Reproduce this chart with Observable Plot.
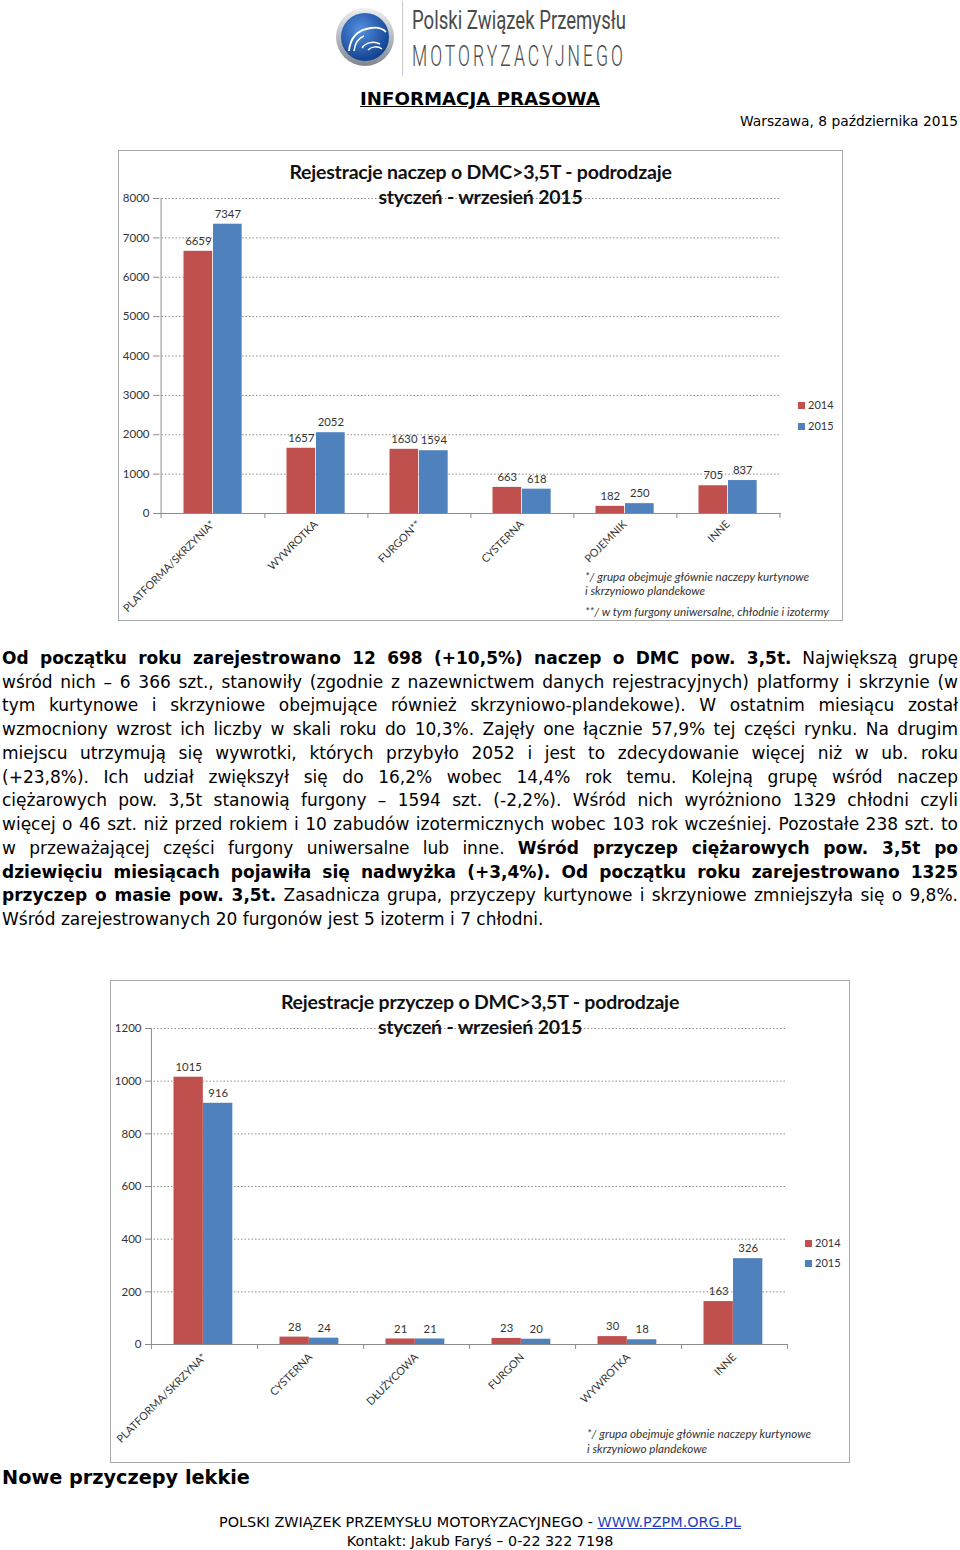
<!DOCTYPE html>
<html><head><meta charset="utf-8">
<script src="https://cdn.jsdelivr.net/npm/d3@7"></script>
<script src="https://cdn.jsdelivr.net/npm/@observablehq/plot@0.6"></script>
<style>
body{margin:0;background:#fff;}
#page{position:relative;width:960px;height:1550px;overflow:hidden;font-family:"DejaVu Sans",Verdana,sans-serif;color:#000;}
.abs{position:absolute;}
.box{position:absolute;background:#fff;}
.boxborder{position:absolute;left:0;top:0;right:0;bottom:0;border:1.5px solid #a8a8a8;pointer-events:none;}
.box svg{position:absolute;left:0;top:0;}
.ctitle{position:absolute;left:0;right:0;text-align:center;font-family:Lato,sans-serif;font-weight:bold;font-size:19.5px;color:#111;line-height:20px;height:20px;letter-spacing:-0.2px;}
.leg{position:absolute;font-family:Lato,sans-serif;font-size:11px;color:#333;line-height:12px;white-space:nowrap;}
.leg i{display:inline-block;width:7px;height:7px;margin-right:3px;vertical-align:0px;}
.note{position:absolute;font-family:Lato,sans-serif;font-style:italic;font-size:11.7px;color:#333;white-space:nowrap;line-height:12px;}
.line{position:absolute;left:2px;white-space:nowrap;font-size:17px;line-height:24px;height:24px;}
</style>
</head><body>
<div id="page">
<svg class="abs" style="left:0;top:0" width="960" height="80">
 <defs>
  <radialGradient id="g1" cx="40%" cy="35%" r="70%"><stop offset="0" stop-color="#5590e0"/><stop offset="1" stop-color="#0d3c8c"/></radialGradient>
  <linearGradient id="g2" x1="0" y1="0" x2="0" y2="1"><stop offset="0" stop-color="#eef0f3"/><stop offset="1" stop-color="#7f868f"/></linearGradient>
 </defs>
 <circle cx="365" cy="37" r="29" fill="url(#g2)"/>
 <circle cx="365" cy="37" r="24" fill="url(#g1)"/>
 <path d="M349 51 C350 40 356 30 371 28 C378 27 383 29 386 32" stroke="#fff" fill="none" stroke-width="1.8"/>
 <path d="M354 51 C355 44 358 38 364 36" stroke="#fff" fill="none" stroke-width="1.5"/>
 <path d="M362 48 C366 42 374 41 380 44 M368 50 C372 46 378 46 382 49" stroke="#fff" fill="none" stroke-width="1.5"/>
 <line x1="402.5" y1="1" x2="402.5" y2="76" stroke="#c8c8c8"/>
 <text x="412" y="29" font-family="Roboto" font-size="25" fill="#4a4a4a" textLength="214" lengthAdjust="spacingAndGlyphs">Polski Związek Przemysłu</text>
 <text x="412" y="66" font-family="Roboto" font-weight="300" font-size="29" letter-spacing="5" fill="#4a4a4a" textLength="214" lengthAdjust="spacingAndGlyphs">MOTORYZACYJNEGO</text>
</svg>
<div class="abs" style="left:0;width:960px;top:88px;text-align:center;font-weight:bold;font-size:18.2px;line-height:22px;text-decoration:underline;">INFORMACJA PRASOWA</div>
<div class="abs" style="right:2px;top:112px;font-size:13.8px;line-height:18px;">Warszawa, 8 października 2015</div>

<div class="box" id="box1" style="left:118px;top:150px;width:725px;height:471px;">
  <div class="ctitle" style="top:12px">Rejestracje naczep o DMC&gt;3,5T - podrodzaje</div>
  <div class="ctitle" style="top:37px">styczeń - wrzesień 2015</div>
  <div class="leg" id="leg1a" style="left:680px;top:249px"></div>
  <div class="leg" id="leg1b" style="left:680px;top:270px"></div>
  <div class="note" style="left:467px;top:420px">*/ grupa obejmuje głównie naczepy kurtynowe</div>
  <div class="note" style="left:467px;top:434px">i skrzyniowo plandekowe</div>
  <div class="note" style="left:467px;top:455px">**/ w tym furgony uniwersalne, chłodnie i izotermy</div>
  <div class="boxborder"></div>
</div>

<div class="box" id="box2" style="left:110px;top:980px;width:740px;height:483px;">
  <div class="ctitle" style="top:12px">Rejestracje przyczep o DMC&gt;3,5T - podrodzaje</div>
  <div class="ctitle" style="top:37px">styczeń - wrzesień 2015</div>
  <div class="leg" id="leg2a" style="left:695px;top:257px"></div>
  <div class="leg" id="leg2b" style="left:695px;top:277px"></div>
  <div class="note" style="left:477px;top:447px">*/ grupa obejmuje głównie naczepy kurtynowe</div>
  <div class="note" style="left:477px;top:462px">i skrzyniowo plandekowe</div>
  <div class="boxborder"></div>
</div>

<div class="abs" style="left:2px;top:1466px;font-weight:bold;font-size:19.3px;line-height:24px;">Nowe przyczepy lekkie</div>
<div class="abs" style="left:0;width:960px;top:1513px;text-align:center;font-size:14.4px;line-height:18px;">POLSKI ZWIĄZEK PRZEMYSŁU MOTORYZACYJNEGO - <span style="color:#1f3fbf;text-decoration:underline">WWW.PZPM.ORG.PL</span></div>
<div class="abs" style="left:0;width:960px;top:1532px;text-align:center;font-size:14.3px;line-height:18px;">Kontakt: Jakub Faryś – 0-22 322 7198</div>
</div>

<script>
// ---- data ----
const years = ["2014", "2015"];
const categoriesNaczepy = ["PLATFORMA/SKRZYNIA*", "WYWROTKA", "FURGON**", "CYSTERNA", "POJEMNIK", "INNE"];
const naczepy2014 = [6659, 1657, 1630, 663, 182, 705];
const naczepy2015 = [7347, 2052, 1594, 618, 250, 837];
const ticksNaczepy = [0, 1000, 2000, 3000, 4000, 5000, 6000, 7000, 8000];

const categoriesPrzyczepy = ["PLATFORMA/SKRZYNA*", "CYSTERNA", "DŁUŻYCOWA", "FURGON", "WYWROTKA", "INNE"];
const przyczepy2014 = [1015, 28, 21, 23, 30, 163];
const przyczepy2015 = [916, 24, 21, 20, 18, 326];
const ticksPrzyczepy = [0, 200, 400, 600, 800, 1000, 1200];

const RED = "#C0504D", BLUE = "#4F81BD", GRID = "#8c8c8c";

function groupedBars({cats, a, b, ticks, width, height, ml, mr, mt, mb, labelPad}) {
  const bw = (width - ml - mr) / cats.length;
  const plotH = height - mt - mb;
  const rows = cats.map((c, i) => ({c, a: a[i], b: b[i]}));
  const barW = 29.5, gap = 22.5;
  return Plot.plot({
    width, height, marginLeft: ml, marginRight: mr, marginTop: mt, marginBottom: mb,
    style: {fontFamily: "Lato, sans-serif", fontSize: "11.3px", color: "#333", background: "transparent", overflow: "visible"},
    x: {type: "band", domain: cats, paddingInner: 0, paddingOuter: 0, label: null},
    y: {domain: [0, ticks[ticks.length - 1]], label: null},
    marks: [
      Plot.gridY(ticks.slice(1), {stroke: GRID, strokeOpacity: 1, strokeDasharray: "1.5,2"}),
      Plot.barY(rows, {x: "c", y: "a", fill: RED, insetLeft: gap, insetRight: bw - gap - barW}),
      Plot.barY(rows, {x: "c", y: "b", fill: BLUE, insetLeft: gap + barW, insetRight: bw - gap - 2 * barW}),
      Plot.ruleY([0], {stroke: GRID}),
      Plot.ruleX([cats[0]], {dx: -bw / 2, stroke: GRID, insetBottom: -5}),
      Plot.ruleX(cats, {dx: bw / 2, stroke: GRID, insetTop: plotH, insetBottom: -5}),
      Plot.text(rows, {x: "c", y: "a", text: d => String(d.a), dx: gap + barW / 2 - bw / 2, dy: -10, fill: "#333"}),
      Plot.text(rows, {x: "c", y: "b", text: d => String(d.b), dx: gap + 1.5 * barW - bw / 2, dy: -10, fill: "#333"}),
      Plot.axisY({ticks, tickSize: 5, tickPadding: 4, stroke: GRID, fill: "#333", fontSize: 11.5, tickFormat: d => String(d), label: null}),
      Plot.axisX({tickRotate: -45, tickSize: 0, tickPadding: labelPad, fontSize: 10.8, fill: "#333", label: null})
    ]
  });
}

const c1 = groupedBars({cats: categoriesNaczepy, a: naczepy2014, b: naczepy2015, ticks: ticksNaczepy,
  width: 725, height: 471, ml: 40, mr: 62, mt: 48, mb: 108, labelPad: 9});
document.getElementById("box1").insertBefore(c1, document.getElementById("box1").firstChild);

const c2 = groupedBars({cats: categoriesPrzyczepy, a: przyczepy2014, b: przyczepy2015, ticks: ticksPrzyczepy,
  width: 740, height: 483, ml: 40, mr: 63, mt: 48, mb: 119, labelPad: 11});
document.getElementById("box2").insertBefore(c2, document.getElementById("box2").firstChild);

// legends
[["leg1a", 0], ["leg1b", 1], ["leg2a", 0], ["leg2b", 1]].forEach(([id, k]) => {
  document.getElementById(id).innerHTML = `<i style="background:${k ? BLUE : RED}"></i>${years[k]}`;
});

// ---- paragraph ----
const lines = [
  "<b>Od początku roku zarejestrowano 12 698 (+10,5%) naczep o DMC pow. 3,5t.</b> Największą grupę",
  "wśród nich – 6 366 szt., stanowiły (zgodnie z nazewnictwem danych rejestracyjnych) platformy i skrzynie (w",
  "tym kurtynowe i skrzyniowe obejmujące również skrzyniowo-plandekowe). W ostatnim miesiącu został",
  "wzmocniony wzrost ich liczby w skali roku do 10,3%. Zajęły one łącznie 57,9% tej części rynku. Na drugim",
  "miejscu utrzymują się wywrotki, których przybyło 2052 i jest to zdecydowanie więcej niż w ub. roku",
  "(+23,8%). Ich udział zwiększył się do 16,2% wobec 14,4% rok temu. Kolejną grupę wśród naczep",
  "ciężarowych pow. 3,5t stanowią furgony – 1594 szt. (-2,2%). Wśród nich wyróżniono 1329 chłodni czyli",
  "więcej o 46 szt. niż przed rokiem i 10 zabudów izotermicznych wobec 103 rok wcześniej. Pozostałe 238 szt. to",
  "w przeważającej części furgony uniwersalne lub inne. <b>Wśród przyczep ciężarowych pow. 3,5t po</b>",
  "<b>dziewięciu miesiącach pojawiła się nadwyżka (+3,4%). Od początku roku zarejestrowano 1325</b>",
  "<b>przyczep o masie pow. 3,5t.</b> Zasadnicza grupa, przyczepy kurtynowe i skrzyniowe zmniejszyła się o 9,8%.",
  "Wśród zarejestrowanych 20 furgonów jest 5 izoterm i 7 chłodni."
];
const page = document.getElementById("page");
const target = 956;
lines.forEach((html, i) => {
  const div = document.createElement("div");
  div.className = "line";
  div.style.top = (646 + i * 23.73) + "px";
  const span = document.createElement("span");
  span.innerHTML = html;
  div.appendChild(span);
  page.appendChild(div);
  if (i < lines.length - 1) {
    const spaces = (span.textContent.match(/ /g) || []).length;
    let w = span.getBoundingClientRect().width;
    if (target - w < spaces * 1) {
      const chars = span.textContent.length;
      span.style.letterSpacing = ((target - w - spaces * 2) / chars) + "px";
      w = span.getBoundingClientRect().width;
    }
    span.style.wordSpacing = ((target - w) / spaces) + "px";
  }
});
</script>
</body></html>
